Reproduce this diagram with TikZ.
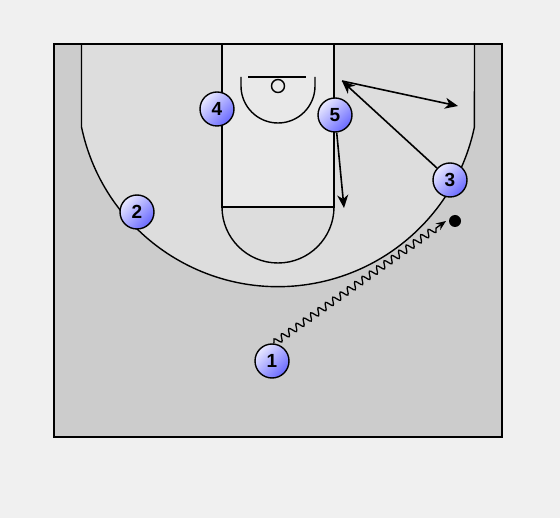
\documentclass[tikz,border=0pt]{standalone}
\usepackage{fontspec}
\setsansfont{Liberation Sans}
\usetikzlibrary{arrows.meta,decorations.pathmorphing}
\definecolor{pagegray}{RGB}{240,240,240}
\definecolor{courtgray}{RGB}{204,204,204}
\definecolor{arcgray}{RGB}{221,221,221}
\definecolor{lanegray}{RGB}{233,233,233}
\definecolor{playerblue}{RGB}{105,105,255}

\begin{document}
\begin{tikzpicture}[x=1pt, y=-1pt,
    player/.style={circle, draw, line width=1.4pt, minimum size=34pt, inner sep=0pt,
        top color=white!85!playerblue, bottom color=playerblue, shading angle=45,
        font=\sffamily\bfseries\fontsize{19}{19}\selectfont},
    courtline/.style={line width=1.4pt},
    move/.style={-{Stealth[length=13pt, width=11pt, inset=4pt]}, line width=1.6pt},
    dribble/.style={-{Stealth[length=10pt, width=8pt, inset=3.5pt]}, line width=1.3pt,
        decorate, decoration={snake, segment length=9pt, amplitude=3.5pt, post length=8pt}}
]
    \useasboundingbox[fill=pagegray] (0,0) rectangle (560,518);
    % Court, three point area and lane
    \fill[courtgray] (54,44) rectangle (502,437);
    \filldraw[arcgray, draw=black, courtline] (81.5,44) -- (81.5,127)
        arc[start angle=168.2, end angle=11.8, radius=200.7] -- (474.5,44);
    \filldraw[lanegray, draw=black, courtline] (222,44) rectangle (334,207);
    \draw[courtline] (334,207) arc[start angle=0, end angle=180, radius=56];
    \draw[courtline] (241,77) -- (241,86) arc[start angle=180, end angle=0, radius=37] -- (315,77);
    \draw[courtline] (248,77) -- (306,77);
    \draw[courtline] (278,86) circle[radius=6.5];
    \draw[line width=2pt] (54,44) rectangle (502,437);

    % Players
    \node[player] (p1) at (272,361) {1};
    \node[player] (p2) at (137,212) {2};
    \node[player] (p3) at (450,180) {3};
    \node[player] (p4) at (217,109) {4};
    \node[player] (p5) at (335,115) {5};

    % Move targets and ball
    \coordinate (screen) at (342,81);
    \coordinate (wing) at (458,106);
    \coordinate (post) at (344,208);
    \coordinate (drive) at (446,221);
    \node[circle, fill=black, minimum size=12pt, inner sep=0pt] (ball) at (455,221) {};

    % Moves
    \draw[move] (p3) -- (screen);
    \draw[move] (screen) -- (wing);
    \draw[move] (p5) -- (post);
    \draw[dribble] (p1.84) -- (drive);
\end{tikzpicture}
\end{document}
